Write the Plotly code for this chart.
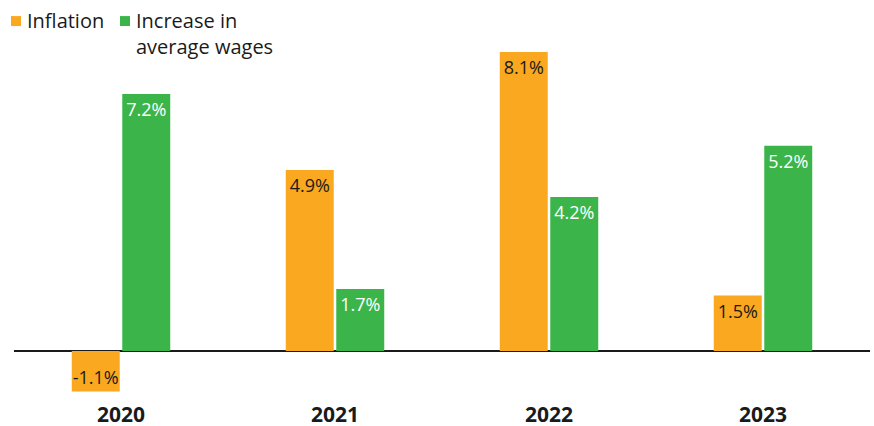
import plotly.graph_objects as go

years = ["2020", "2021", "2022", "2023"]
# bar heights as drawn in the original; the printed labels are listed separately
inflation = [-1.1, 4.9, 8.1, 1.5]
wages = [6.96, 1.68, 4.17, 5.56]
inflation_labels = ["-1.1%", "4.9%", "8.1%", "1.5%"]
wage_labels = ["7.2%", "1.7%", "4.2%", "5.2%"]

ORANGE = "#F9A81F"
GREEN = "#3BB54A"
INK = "#1a1a1a"

fig = go.Figure()

fig.add_trace(go.Bar(
    x=years, y=inflation,
    name="Inflation",
    marker=dict(color=ORANGE, line=dict(width=0)),
    text=inflation_labels,
    textposition="inside",
    insidetextanchor="end",
    textfont=dict(color=INK, size=18),
))

fig.add_trace(go.Bar(
    x=years, y=wages,
    name="Increase in average wages",
    marker=dict(color=GREEN, line=dict(width=0)),
    text=wage_labels,
    textposition="inside",
    insidetextanchor="end",
    textfont=dict(color="white", size=18),
))

# plot area: x 14..870 px, y 40..396 px
W0, W = 14, 856
T, H = 40, 356


def px_x(p):
    return (p - W0) / W


def px_y(p):
    return (T + H - p) / H


# custom legend (compact square + label, like the original)
legend_items = [
    (11, ORANGE, "Inflation", 27),
    (120, GREEN, "Increase in<br>average wages", 136),
]
for sq_x, col, label, tx in legend_items:
    fig.add_shape(type="rect", xref="paper", yref="paper",
                  x0=px_x(sq_x), x1=px_x(sq_x + 10),
                  y0=px_y(26), y1=px_y(16),
                  fillcolor=col, line=dict(width=0))
    fig.add_annotation(
        text=label, xref="paper", yref="paper",
        x=px_x(tx - 2), y=px_y(5),
        xanchor="left", yanchor="top", align="left", showarrow=False,
        font=dict(size=20, color=INK),
    )

fig.update_layout(
    width=874, height=426,
    margin=dict(l=14, r=4, t=40, b=31, autoexpand=False),
    paper_bgcolor="white",
    plot_bgcolor="white",
    font=dict(family="Open Sans", color=INK),
    barmode="group",
    bargap=0.528,
    bargroupgap=0.05,
    uniformtext=dict(minsize=18, mode="show"),
    showlegend=False,
    xaxis=dict(
        showgrid=False, showline=False, ticks="",
        ticklabelstandoff=5,
        tickfont=dict(size=21, color=INK, family="Open Sans", weight="bold"),
    ),
    yaxis=dict(
        range=[-1.193, 8.425],
        showgrid=False, showticklabels=False, showline=False,
        zeroline=True, zerolinecolor=INK, zerolinewidth=2,
    ),
)

fig.write_html("out.html", config={"displayModeBar": False},
               post_script="document.body.style.margin='0';")
